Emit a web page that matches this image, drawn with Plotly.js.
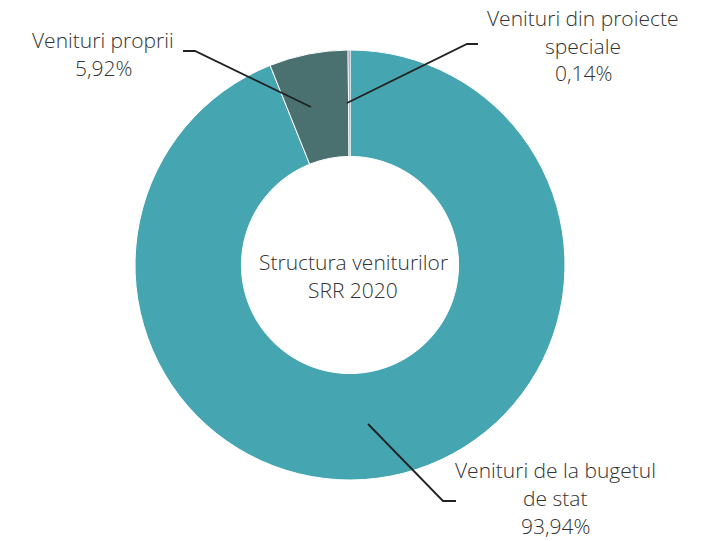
<!DOCTYPE html>
<html><head><meta charset="utf-8">
<script src="https://cdn.plot.ly/plotly-3.0.1.min.js"></script>
<style>html,body{margin:0;padding:0;background:#fff}</style>
</head><body>
<div id="chart" style="width:723px;height:541px"></div>
<script>
const categories = ["Venituri de la bugetul de stat", "Venituri proprii", "Venituri din proiecte speciale"];
const values = [93.94, 5.92, 0.14];
const valueLabels = ["93,94%", "5,92%", "0,14%"];
const colors = ["#45a5b0", "#4a7170", "#6b5080"];
const centerTitle = ["Structura veniturilor", "SRR 2020"];

const W = 723, H = 541;
const px = x => x / W, py = y => 1 - y / H;
const font = {family: "Open Sans, sans-serif", size: 21, color: "#333333", weight: 300};

function txt(x, y, t) {
  return {x: px(x), y: py(y), xref: "paper", yref: "paper", text: t, showarrow: false,
          xanchor: "center", yanchor: "middle", font: font};
}
const annotations = [
  txt(103, 40, "Venituri proprii"),
  txt(103, 68, valueLabels[1]),
  txt(583, 18, "Venituri din proiecte"),
  txt(583, 46, "speciale"),
  txt(583, 73, valueLabels[2]),
  txt(555, 470, "Venituri de la bugetul"),
  txt(555, 498, "de stat"),
  txt(555, 526, valueLabels[0]),
  txt(353, 262, centerTitle[0]),
  txt(353, 290, centerTitle[1])
];
function path(pts) {
  return {type: "path", xref: "paper", yref: "paper",
    path: pts.map((p, i) => (i ? "L" : "M") + px(p[0]) + "," + py(p[1])).join(" "),
    line: {color: "#222", width: 1.8}};
}
const shapes = [
  path([[183, 51], [195, 51], [311, 107]]),
  path([[478, 44], [467, 44], [347, 103]]),
  path([[368, 424], [443, 501], [456, 501]])
];

const data = [{
  type: "pie",
  labels: categories,
  values: values,
  marker: {colors: colors, line: {color: "#ffffff", width: 1}},
  hole: 0.505,
  sort: false,
  direction: "clockwise",
  rotation: 0,
  textinfo: "none",
  hoverinfo: "label+percent",
  domain: {x: [135 / W, 565 / W], y: [1 - 480 / H, 1 - 50 / H]}
}];
const layout = {
  width: W, height: H,
  margin: {l: 0, r: 0, t: 0, b: 0},
  showlegend: false,
  paper_bgcolor: "#fff",
  annotations: annotations,
  shapes: shapes
};
Plotly.newPlot("chart", data, layout, {displayModeBar: false, staticPlot: true});
</script>
</body></html>
